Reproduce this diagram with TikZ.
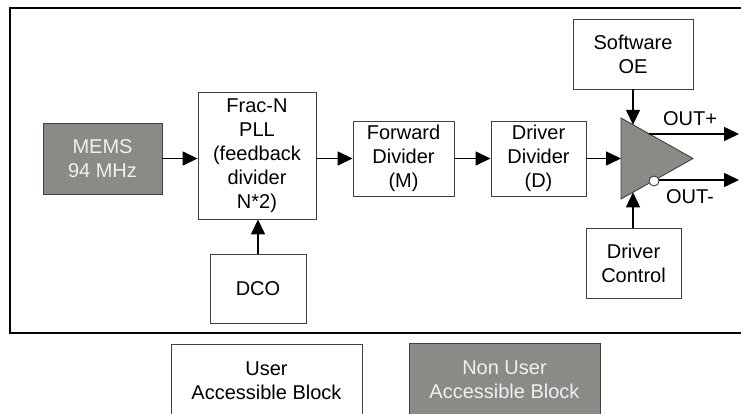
\documentclass[tikz,border=0pt]{standalone}
\usepackage{fontspec}
\setmainfont{Liberation Sans}
\usetikzlibrary{arrows.meta}
\definecolor{blk}{HTML}{8C8A86}
\definecolor{edge}{HTML}{404040}
\begin{document}
\begin{tikzpicture}[x=1pt,y=-1pt,
  box/.style={draw=edge, line width=0.9pt, fill=white, align=center, inner sep=0pt,
              font=\fontsize{20}{24}\selectfont},
  dark/.style={box, fill=blk, text=white!94!black},
  lbl/.style={inner sep=0pt, font=\fontsize{20}{24}\selectfont},
  conn/.style={line width=1.5pt, -{Triangle[length=15pt,width=14pt]}},
]
\useasboundingbox (0,0) rectangle (741,414);
\draw[line width=2pt] (760,8) -- (10,8) -- (10,333) -- (760,333);

\node[dark, minimum width=119pt, minimum height=71pt] (mems) at (102.5,158.5) {MEMS\\94 MHz};
\node[box, minimum width=118pt, minimum height=127pt] (pll) at (257,155.5) {Frac-N\\PLL\\(feedback\\divider\\N*2)};
\node[box, minimum width=101pt, minimum height=75pt] (fwd) at (403.5,158.5) {Forward\\Divider\\(M)};
\node[box, minimum width=95pt, minimum height=75pt] (drv) at (538.5,158.5) {Driver\\Divider\\(D)};
\node[box, minimum width=120pt, minimum height=70pt] (soe) at (633,54) {Software\\OE};
\node[box, minimum width=95pt, minimum height=70pt] (dctl) at (633.5,263) {Driver\\Control};
\node[box, minimum width=96pt, minimum height=69pt] (dco) at (258,288.5) {DCO};

% output driver
\coordinate (tl) at (621,118);
\coordinate (bl) at (621,199);
\coordinate (apex) at (693,158.5);
\coordinate (tin) at (621,158.5);
\coordinate (ttop) at (633,124.8);
\coordinate (tbot) at (633,192.3);
\coordinate (op) at (649.4,134);
\coordinate (opend) at (739,134);
\coordinate (omend) at (739,180);
\draw[fill=blk, draw=edge, line width=0.9pt] (tl) -- (apex) -- (bl) -- cycle;
\node[circle, draw=edge, line width=0.9pt, fill=white, minimum size=10pt, inner sep=0pt] (bub) at (654,181) {};

\draw[conn] (mems) -- (pll.west |- mems);
\draw[conn] (pll.east |- fwd) -- (fwd);
\draw[conn] (fwd) -- (drv);
\draw[conn] (drv) -- (tin);
\draw[conn] (soe.south -| ttop) -- (ttop);
\draw[conn] (dctl.north -| tbot) -- (tbot);
\draw[conn] (dco.north) -- (dco.north |- pll.south);
\draw[conn] (op) -- (opend);
\draw[conn] (bub.east |- 0,180) -- (omend);

\node[lbl] (outp) at (690,119) {OUT+};
\node[lbl] (outm) at (690,197) {OUT-};

% legend
\node[box, minimum width=191pt, minimum height=72pt, anchor=north] (leg1) at (266.5,344) {User\\Accessible Block};
\node[dark, minimum width=191pt, minimum height=72pt, anchor=north] (leg2) at (504.5,343) {Non User\\Accessible Block};
\end{tikzpicture}
\end{document}
